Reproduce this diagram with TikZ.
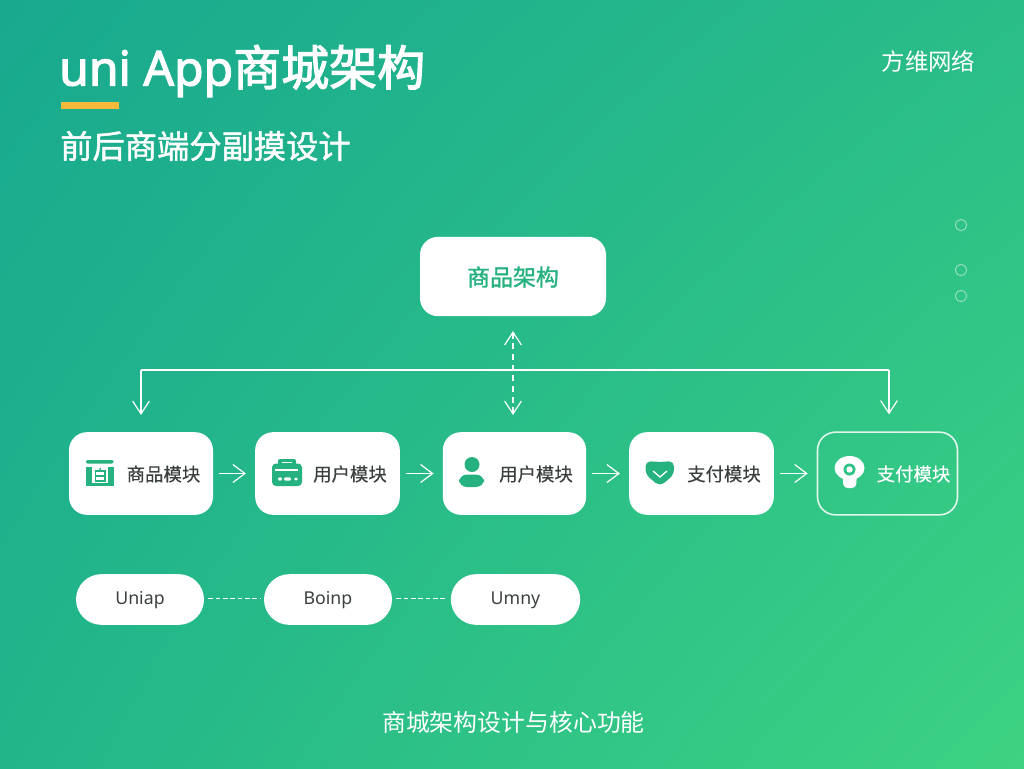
\documentclass[tikz,border=0pt]{standalone}
\usepackage{fontspec}
\usetikzlibrary{arrows.meta,shadings}
\setmainfont{Noto Sans}
\newfontfamily\cjk{Noto Sans CJK SC}
\newfontfamily\cjkL[FakeBold=0.35]{Noto Sans CJK SC}
\newfontfamily\cjkM[FakeBold=1.4]{Noto Sans CJK SC}
\newfontfamily\cjkT[FakeBold=2.4]{Noto Sans CJK SC}
\newfontfamily\latT[FakeBold=2.4]{Noto Sans}
\definecolor{bgTL}{HTML}{18A98F}
\definecolor{bgTR}{HTML}{2ABD88}
\definecolor{bgBL}{HTML}{22B58A}
\definecolor{bgBR}{HTML}{3DD382}
\definecolor{iconG}{HTML}{25B27F}
\definecolor{inkG}{HTML}{3A3F3F}
\definecolor{barY}{HTML}{F5B93A}
\tikzset{
  x=0.75pt,y=-0.75pt,
  card/.style={fill=white,rounded corners=13.5pt,inner sep=0pt,draw=none},
  ghost/.style={draw=white,draw opacity=0.85,line width=1.2pt,rounded corners=13.5pt,inner sep=0pt},
  pill/.style={fill=white,rounded corners=19pt,inner sep=0pt},
  modlabel/.style={font=\cjkL\fontsize{13.8pt}{14pt}\selectfont,text=inkG,inner sep=0pt},
  pilllabel/.style={font=\fontsize{13.3pt}{14pt}\selectfont,text=inkG,inner sep=0pt},
  link/.style={draw=white,line width=0.9pt,-{Straight Barb[length=9pt,width=13.5pt,line width=0.9pt]}},
  drop/.style={draw=white,line width=0.9pt,-{Straight Barb[length=9.5pt,width=12.5pt,line width=0.9pt]}},
  bus/.style={draw=white,line width=0.9pt},
  updown/.style={draw=white,line width=0.9pt,dash pattern=on 4.5pt off 3.5pt,{Straight Barb[length=9.5pt,width=12.5pt,line width=0.9pt]}-{Straight Barb[length=9.5pt,width=12.5pt,line width=0.9pt]}},
  dashlink/.style={draw=white,line width=0.8pt,dash pattern=on 3.6pt off 1.9pt},
  dot/.style={draw=white,draw opacity=0.45,line width=0.8pt,circle,minimum size=8.5pt,inner sep=0pt},
}
\begin{document}
\begin{tikzpicture}
\useasboundingbox (0,0) rectangle (1024,768);
\shade[shading=bilinear interpolation,upper left=bgTL,upper right=bgTR,lower left=bgBL,lower right=bgBR] (0,0) rectangle (1024,768);
% heading
\node[anchor=west,inner sep=0pt,text=white] (title) at (59,71) {\fontsize{36pt}{40pt}\selectfont{\latT uni App}{\cjkT 商城架构}};
\fill[barY] (61,102) rectangle (119,109);
\node[anchor=west,inner sep=0pt,text=white] (subtitle) at (60,146) {\fontsize{24.2pt}{28pt}\selectfont\cjkM 前后商端分副摸设计};
\node[inner sep=0pt,text=white] (brand) at (928.5,61) {\fontsize{17.6pt}{20pt}\selectfont\cjk 方维网络};
\node[inner sep=0pt,text=white] (caption) at (513.5,722) {\fontsize{17.9pt}{20pt}\selectfont\cjk 商城架构设计与核心功能};
% dots
\node[dot] (d1) at (961,225) {};
\node[dot] (d2) at (961,270) {};
\node[dot] (d3) at (961,296) {};
% top
\node[card,minimum width=139.5pt,minimum height=59.5pt] (top) at (513,276.5) {};
\node[inner sep=0pt,text=iconG] (toplabel) at (513,277) {\fontsize{17.2pt}{20pt}\selectfont\cjkM 商品架构};
% modules
\node[card,minimum width=108pt,minimum height=62pt] (m1) at (141,473.5) {};
\node[card,minimum width=108.5pt,minimum height=62pt] (m2) at (327.5,473.5) {};
\node[card,minimum width=107.5pt,minimum height=62pt] (m3) at (514.5,473.5) {};
\node[card,minimum width=108.5pt,minimum height=62pt] (m4) at (701.5,473.5) {};
\node[ghost,minimum width=105pt,minimum height=62pt] (m5) at (887.5,473.5) {};
\node[modlabel] (l1) at (163.5,474) {商品模块};
\node[modlabel] (l2) at (350,474) {用户模块};
\node[modlabel] (l3) at (536,474) {用户模块};
\node[modlabel] (l4) at (724,474) {支付模块};
\node[modlabel,text=white] (l5) at (913.5,474) {支付模块};
% icon 1
\fill[iconG,rounded corners=1pt] (86,460) rectangle (113.5,463.5);
\fill[iconG] (86,467) rectangle (113.5,486);
\fill[white] (92,467) rectangle (108,483);
\draw[iconG,line width=0.9pt] (95.5,471) rectangle (105,481);
\draw[iconG,line width=0.9pt] (95.5,476) -- (105,476);
\draw[iconG,line width=0.9pt] (100.5,468) -- (99.5,471);
% icon 2
\fill[iconG,rounded corners=1.5pt] (278,459) rectangle (296,466);
\fill[white] (282,461.5) rectangle (292,462.7);
\fill[iconG,rounded corners=3pt] (272,463.5) rectangle (302,486);
\draw[white,line width=0.8pt] (275,470) -- (298,470);
\fill[white] (280,479) circle (2 and 1.7);
\fill[white,rounded corners=1pt] (284,477.3) rectangle (291,480.7);
\fill[white] (296,479) circle (1.8 and 1.7);
% icon 3
\fill[iconG] (472,464.5) circle (7.5);
\fill[iconG,rounded corners=6pt] (459,474.5) rectangle (484,487);
% icon 4
\fill[iconG,rounded corners=4pt] (645.5,461) -- (659.5,462) -- (674,461) -- (674,474.5) -- (660,486.5) -- (645.5,474.5) -- cycle;
\draw[white,line width=1pt] (653,471) -- (660,477) -- (667,471);
% icon 5
\fill[white] (849.5,468) circle (15 and 12);
\fill[white,rounded corners=3pt] (842.5,472) -- (857,472) -- (856,488) -- (843.5,488) -- cycle;
\fill[bgBR!45!bgBL] (849.5,469.5) circle (6);
\fill[white] (849.5,469.5) circle (3.2);
% pills
\node[pill,minimum width=96pt,minimum height=38pt] (p1) at (140,599.5) {};
\node[pill,minimum width=96pt,minimum height=38pt] (p2) at (328,599.5) {};
\node[pill,minimum width=97pt,minimum height=38pt] (p3) at (515.5,599.5) {};
\node[pilllabel] (pl1) at (140,600) {Uniap};
\node[pilllabel] (pl2) at (328,600) {Boinp};
\node[pilllabel] (pl3) at (515.5,600) {Umny};
% connectors
\coordinate (busL) at (141,370);
\coordinate (busR) at (889,370);
\draw[bus] (busL) -- (busR);
\draw[drop,shorten >=12.75pt] (busL) -- (m1.north -| busL);
\draw[drop,shorten >=12.75pt] (busR) -- (m5.north -| busR);
\draw[updown,shorten <=11pt,shorten >=12.75pt] (top.south) -- (top.south |- m3.north);
\draw[link,shorten <=4.5pt,shorten >=6.75pt] (m1) -- (m2);
\draw[link,shorten <=4.5pt,shorten >=6.75pt] (m2) -- (m3);
\draw[link,shorten <=4.5pt,shorten >=6.75pt] (m3) -- (m4);
\draw[link,shorten <=4.5pt,shorten >=6.75pt] (m4) -- (m5);
\draw[dashlink,shorten <=3pt,shorten >=3pt] ([yshift=1.1pt]p1.east) -- ([yshift=1.1pt]p2.west);
\draw[dashlink,shorten <=3pt,shorten >=3pt] ([yshift=1.1pt]p2.east) -- ([yshift=1.1pt]p3.west);
\end{tikzpicture}
\end{document}
